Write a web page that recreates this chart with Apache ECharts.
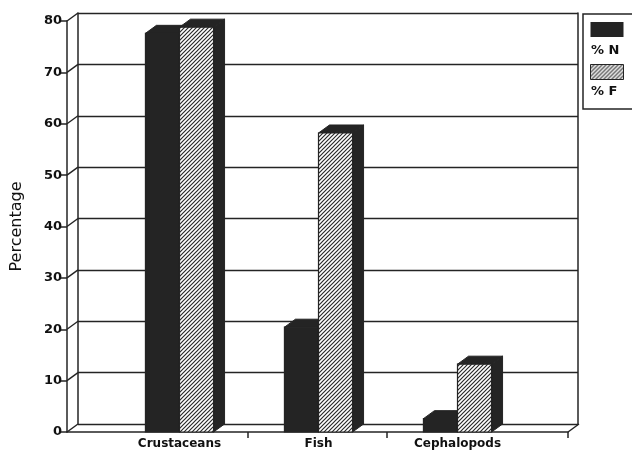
<!DOCTYPE html>
<html>
<head>
<meta charset="utf-8">
<script src="https://cdn.jsdelivr.net/npm/echarts@6/dist/echarts.min.js"></script>
<style>
html,body{margin:0;padding:0;background:#fff;}
#chart{width:632px;height:454px;}
</style>
</head>
<body>
<div id="chart"></div>
<script>
// ---- data ----
const categories = ['Crustaceans', 'Fish', 'Cephalopods'];
const seriesNames = ['% N', '% F'];
const valuesN = [77.6, 20.4, 2.6];
const valuesF = [78.8, 58.2, 13.2];
const yTicks = [0, 10, 20, 30, 40, 50, 60, 70, 80];
const floorTicks = [1.3, 2.3, 3.6];
const yAxisTitle = 'Percentage';

// ---- styling ----
const DARK = '#242424';
const DX = 11, DY = -8;
const FONT = 'DejaVu Sans';

const pc = document.createElement('canvas');
pc.width = 4; pc.height = 4;
const g = pc.getContext('2d');
g.fillStyle = '#fff'; g.fillRect(0, 0, 4, 4);
g.strokeStyle = '#2a2a2a'; g.lineWidth = 1.2;
g.beginPath();
g.moveTo(0, 4); g.lineTo(4, 0);
g.moveTo(-1, 1); g.lineTo(1, -1);
g.moveTo(3, 5); g.lineTo(5, 3);
g.stroke();
const hatch = { image: pc, repeat: 'repeat' };

function barRender(offsetIdx, frontFill) {
  return function (params, api) {
    const c = api.coord([api.value(0), api.value(1)]);
    const base = api.coord([api.value(0), 0]);
    const band = api.size([1, 0])[0];
    const bw = band * 0.245;
    const x0 = c[0] + offsetIdx * bw;
    const yT = c[1], yB = base[1];
    return {
      type: 'group',
      children: [
        { type: 'polygon', shape: { points: [[x0 + bw, yT], [x0 + bw + DX, yT + DY], [x0 + bw + DX, yB + DY], [x0 + bw, yB]] },
          style: { fill: DARK, stroke: DARK, lineWidth: 1 } },
        { type: 'polygon', shape: { points: [[x0, yT], [x0 + DX, yT + DY], [x0 + bw + DX, yT + DY], [x0 + bw, yT]] },
          style: { fill: DARK, stroke: DARK, lineWidth: 1 } },
        { type: 'rect', shape: { x: x0, y: yT, width: bw, height: yB - yT },
          style: { fill: frontFill, stroke: DARK, lineWidth: 1.2 } }
      ]
    };
  };
}

const chart = echarts.init(document.getElementById('chart'), null, { renderer: 'canvas' });
const lineStyle = { color: DARK, width: 1.5 };

chart.setOption({
  backgroundColor: '#fff',
  animation: false,
  grid: [
    { left: 67, right: 64, top: 21, bottom: 22 },
    { left: 78, right: 54, top: 13, bottom: 30 },
    { left: 110, right: 105, top: 21, bottom: 22 }
  ],
  legend: [
    {
      data: [
        { name: seriesNames[0], itemStyle: { color: DARK } },
        { name: seriesNames[1], itemStyle: { color: hatch, borderColor: DARK, borderWidth: 1 } }
      ],
      orient: 'vertical', left: 583, top: 14,
      padding: [8, 18, 29, 7],
      itemWidth: 33, itemHeight: 15, itemGap: 27,
      icon: 'rect',
      formatter: function () { return ''; },
      textStyle: { fontSize: 1, lineHeight: 1 },
      borderColor: DARK, borderWidth: 1.5,
      selectedMode: false
    },
    {
      data: seriesNames,
      orient: 'vertical', left: 586, top: 43,
      padding: 0,
      itemWidth: 0, itemHeight: 0, itemGap: 26.5,
      icon: 'rect',
      itemStyle: { opacity: 0 },
      textStyle: { fontFamily: FONT, fontWeight: 'bold', fontSize: 13, lineHeight: 15, color: '#111' },
      selectedMode: false
    }
  ],
  xAxis: [
    { gridIndex: 0, type: 'value', min: 0, max: 3.6,
      axisLine: { show: true, lineStyle: lineStyle },
      axisTick: { show: true, customValues: floorTicks, length: 6, lineStyle: lineStyle },
      axisLabel: { show: false }, splitLine: { show: false } },
    { gridIndex: 1, type: 'value', min: 0, max: 1, show: false },
    { gridIndex: 2, type: 'category', data: categories,
      axisLine: { show: false }, axisTick: { show: false },
      axisLabel: { fontFamily: FONT, fontWeight: 'bold', fontSize: 12, color: '#111', margin: 6 } }
  ],
  yAxis: [
    { gridIndex: 0, type: 'value', min: 0, max: 80, interval: 10,
      axisLine: { show: true, lineStyle: lineStyle },
      axisTick: { show: true, length: 6, lineStyle: lineStyle },
      axisLabel: { fontFamily: FONT, fontWeight: 'bold', fontSize: 13, color: '#111', margin: 5 },
      splitLine: { show: false },
      name: yAxisTitle, nameLocation: 'middle', nameGap: 42,
      nameTextStyle: { fontFamily: FONT, fontSize: 16, color: '#111' } },
    { gridIndex: 1, type: 'value', min: 0, max: 80, interval: 10,
      axisLine: { show: true, lineStyle: lineStyle },
      axisTick: { show: false }, axisLabel: { show: false },
      splitLine: { show: true, lineStyle: { color: DARK, width: 1.4 } } },
    { gridIndex: 1, type: 'value', min: 0, max: 80, interval: 10, position: 'right',
      axisLine: { show: true, lineStyle: lineStyle },
      axisTick: { show: false }, axisLabel: { show: false }, splitLine: { show: false } },
    { gridIndex: 2, type: 'value', min: 0, max: 80, interval: 10, show: false }
  ],
  series: [
    {
      type: 'custom', name: 'connectors', silent: true,
      xAxisIndex: 0, yAxisIndex: 0,
      data: yTicks.map(v => [0, v]).concat([[3.6, 0]]),
      renderItem: function (params, api) {
        const p = api.coord([api.value(0), api.value(1)]);
        return { type: 'line', shape: { x1: p[0], y1: p[1], x2: p[0] + DX, y2: p[1] + DY },
          style: { stroke: DARK, lineWidth: 1.4 } };
      }
    },
    {
      type: 'custom', name: seriesNames[0],
      xAxisIndex: 2, yAxisIndex: 3,
      itemStyle: { color: DARK },
      data: valuesN.map((v, i) => [i, v]),
      renderItem: barRender(-1, DARK)
    },
    {
      type: 'custom', name: seriesNames[1],
      xAxisIndex: 2, yAxisIndex: 3,
      itemStyle: { color: hatch },
      data: valuesF.map((v, i) => [i, v]),
      renderItem: barRender(0, hatch)
    }
  ]
});
</script>
</body>
</html>
